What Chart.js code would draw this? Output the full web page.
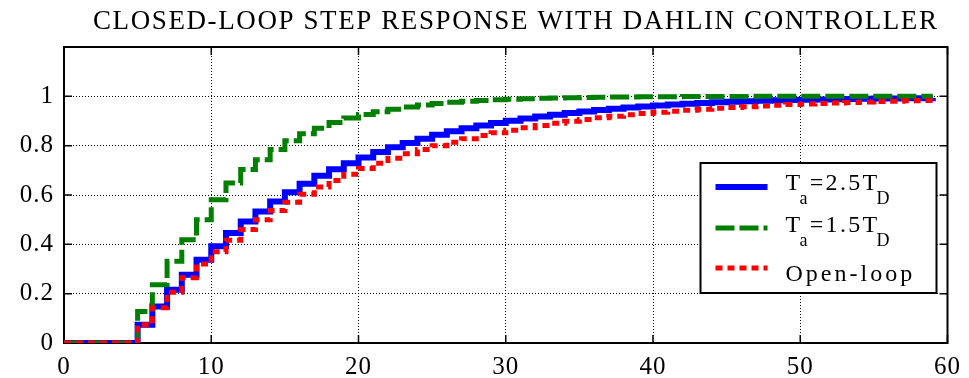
<!DOCTYPE html>
<html>
<head>
<meta charset="utf-8">
<title>Closed-loop step response with Dahlin controller</title>
<script src="https://cdn.jsdelivr.net/npm/chart.js@4.4.1/dist/chart.umd.min.js"></script>
<style>
    html, body { margin: 0; padding: 0; background: #fff; }
    #wrap { width: 969px; height: 378px; }
</style>
</head>
<body>
<div id="wrap"><canvas id="stepChart" width="969" height="378"></canvas></div>
<script>
// =============================================================================
// data (sample time 1, dead time 5)
// =============================================================================
const times = [
    0, 1, 2, 3, 4, 5, 6, 7, 8, 9,
    10, 11, 12, 13, 14, 15, 16, 17, 18, 19,
    20, 21, 22, 23, 24, 25, 26, 27, 28, 29,
    30, 31, 32, 33, 34, 35, 36, 37, 38, 39,
    40, 41, 42, 43, 44, 45, 46, 47, 48, 49,
    50, 51, 52, 53, 54, 55, 56, 57, 58, 59
];

// Ta = 2.5 TD
const responseTa25 = [
    0, 0, 0, 0, 0, 0.074, 0.148, 0.216, 0.277, 0.338,
    0.392, 0.446, 0.493, 0.533, 0.574, 0.611, 0.646, 0.678, 0.704, 0.729,
    0.752, 0.774, 0.794, 0.811, 0.828, 0.844, 0.858, 0.871, 0.882, 0.892,
    0.901, 0.910, 0.918, 0.925, 0.932, 0.939, 0.945, 0.950, 0.955, 0.959,
    0.963, 0.967, 0.970, 0.973, 0.976, 0.978, 0.980, 0.982, 0.984, 0.985,
    0.986, 0.987, 0.988, 0.989, 0.990, 0.991, 0.991, 0.992, 0.992, 0.993
];

// Ta = 1.5 TD
const responseTa15 = [
    0, 0, 0, 0, 0, 0.128, 0.236, 0.331, 0.419, 0.500,
    0.581, 0.649, 0.703, 0.743, 0.784, 0.820, 0.848, 0.871, 0.894, 0.912,
    0.926, 0.938, 0.948, 0.957, 0.965, 0.971, 0.976, 0.980, 0.983, 0.986,
    0.988, 0.990, 0.992, 0.993, 0.994, 0.995, 0.996, 0.997, 0.997, 0.998,
    0.998, 0.998, 0.999, 0.999, 0.999, 0.999, 0.999, 1.000, 1.000, 1.000,
    1.000, 1.000, 1.000, 1.000, 1.000, 1.000, 1.000, 1.000, 1.000, 1.000
];

// open loop
const responseOpen = [
    0, 0, 0, 0, 0, 0.074, 0.143, 0.206, 0.265, 0.320,
    0.370, 0.417, 0.460, 0.500, 0.537, 0.571, 0.603, 0.632, 0.659, 0.684,
    0.707, 0.729, 0.749, 0.767, 0.784, 0.800, 0.814, 0.828, 0.841, 0.852,
    0.863, 0.873, 0.882, 0.891, 0.899, 0.906, 0.913, 0.919, 0.925, 0.930,
    0.935, 0.940, 0.944, 0.948, 0.952, 0.955, 0.958, 0.961, 0.964, 0.967,
    0.969, 0.971, 0.973, 0.975, 0.977, 0.979, 0.980, 0.982, 0.983, 0.984
];

const xTicks = [0, 10, 20, 30, 40, 50, 60];
const yTicks = [0, 0.2, 0.4, 0.6, 0.8, 1];

const titleText = "CLOSED-LOOP STEP RESPONSE WITH DAHLIN CONTROLLER";

// legend text pieces: sub = subscript
const legendLabels = [
    [{ text: "T" }, { text: "a", sub: true }, { text: "=2.5T" }, { text: "D", sub: true }],
    [{ text: "T" }, { text: "a", sub: true }, { text: "=1.5T" }, { text: "D", sub: true }],
    [{ text: "Open-loop" }]
];


// =============================================================================
// styles
// =============================================================================
const SERIF = '"Liberation Serif", "Times New Roman", serif';

const lineStyles = [
    { color: "#0000ff", width: 6, dash: [] },
    { color: "#007f00", width: 5, dash: [19, 5] },
    { color: "#ff0000", width: 5, dash: [7, 5] },
];

function points(values) {
    return times.map((t, i) => ({ x: t, y: values[i] }));
}


// =============================================================================
// plugin: frame box with inward ticks, legend, title
// =============================================================================
const matlabLook = {
    id: "matlabLook",

    beforeDraw(chart) {
        chart.ctx.letterSpacing = "1px";
    },

    beforeDatasetsDraw(chart) {
        const { ctx, chartArea: a, scales } = chart;
        ctx.save();
        ctx.strokeStyle = "#000";
        ctx.lineWidth = 1.5;
        ctx.beginPath();
        scales.y.ticks.forEach((t) => {
            const py = scales.y.getPixelForValue(t.value);
            ctx.moveTo(a.left, py);
            ctx.lineTo(a.left + 8, py);
            ctx.moveTo(a.right, py);
            ctx.lineTo(a.right - 8, py);
        });
        scales.x.ticks.forEach((t) => {
            const px = scales.x.getPixelForValue(t.value);
            ctx.moveTo(px, a.bottom);
            ctx.lineTo(px, a.bottom - 8);
            ctx.moveTo(px, a.top);
            ctx.lineTo(px, a.top + 8);
        });
        ctx.stroke();

        ctx.lineWidth = 2;
        ctx.strokeRect(a.left, a.top, a.right - a.left, a.bottom - a.top);
        ctx.restore();
    },

    afterDatasetsDraw(chart) {
        const { ctx, chartArea: a } = chart;
        const box = { left: a.right - 247, top: a.top + 116, width: 236, height: 130 };

        ctx.save();
        ctx.fillStyle = "#fff";
        ctx.fillRect(box.left, box.top, box.width, box.height);
        ctx.strokeStyle = "#000";
        ctx.lineWidth = 2;
        ctx.strokeRect(box.left, box.top, box.width, box.height);

        const sampleY = [24, 65, 105];
        const baseY = [27, 69, 118];

        lineStyles.forEach((s, i) => {
            ctx.beginPath();
            ctx.strokeStyle = s.color;
            ctx.lineWidth = s.width;
            ctx.lineCap = "butt";
            ctx.setLineDash(s.dash);
            ctx.moveTo(box.left + 15, box.top + sampleY[i]);
            ctx.lineTo(box.left + 67, box.top + sampleY[i]);
            ctx.stroke();
        });
        ctx.setLineDash([]);

        ctx.fillStyle = "#000";
        ctx.textAlign = "left";
        ctx.textBaseline = "alphabetic";
        legendLabels.forEach((parts, i) => {
            let x = box.left + 85;
            const y = box.top + baseY[i];
            ctx.letterSpacing = parts.length > 1 ? "2.3px" : "3px";
            parts.forEach((p) => {
                ctx.font = p.sub ? `18px ${SERIF}` : `24px ${SERIF}`;
                if (p.sub) x -= 3;   // tuck subscript under the T
                ctx.fillText(p.text, x, y + (p.sub ? 14 : 0));
                x += ctx.measureText(p.text).width;
            });
        });
        ctx.restore();
    },

    afterDraw(chart) {
        const { ctx, chartArea: a } = chart;
        ctx.save();
        ctx.font = `27px ${SERIF}`;
        ctx.letterSpacing = "1.6px";
        ctx.fillStyle = "#000";
        ctx.textAlign = "left";
        ctx.textBaseline = "alphabetic";
        ctx.fillText(titleText, a.left + 29, 29);
        ctx.restore();
    },
};


// =============================================================================
// chart
// =============================================================================
Chart.defaults.font.family = SERIF;
Chart.defaults.color = "#000";

const datasets = [responseTa25, responseTa15, responseOpen].map((values, i) => ({
    label: ["Ta=2.5TD", "Ta=1.5TD", "Open-loop"][i],
    data: points(values),
    borderColor: lineStyles[i].color,
    borderWidth: lineStyles[i].width,
    borderDash: lineStyles[i].dash,
    borderCapStyle: "butt",
    borderJoinStyle: "miter",
    stepped: true,
    pointRadius: 0,
    fill: false,
    order: 2 - i,   // open-loop drawn on top
}));

const gridStyle = {
    grid: { color: "#000", lineWidth: 1, drawTicks: false },
    border: { display: false, dash: [1, 2] },
};

new Chart(document.getElementById("stepChart"), {
    type: "line",
    data: { datasets },
    options: {
        responsive: false,
        animation: false,
        layout: { padding: { top: 47, right: 17, left: 0, bottom: 0 } },
        plugins: {
            legend: { display: false },
            title: { display: false },
            tooltip: { enabled: false },
        },
        scales: {
            x: {
                type: "linear",
                min: 0,
                max: 60,
                afterBuildTicks: (scale) => { scale.ticks = xTicks.map((v) => ({ value: v })); },
                afterFit: (scale) => { scale.height = 35; },
                ticks: { font: { size: 25 }, padding: 9, maxRotation: 0 },
                ...gridStyle,
            },
            y: {
                min: 0,
                max: 1.2,
                afterBuildTicks: (scale) => { scale.ticks = yTicks.map((v) => ({ value: v })); },
                afterFit: (scale) => { scale.width = 64; },
                ticks: {
                    font: { size: 25 },
                    padding: 10,
                    callback: (v) => String(Number(v.toFixed(1))),
                },
                ...gridStyle,
            },
        },
    },
    plugins: [matlabLook],
});
</script>
</body>
</html>
